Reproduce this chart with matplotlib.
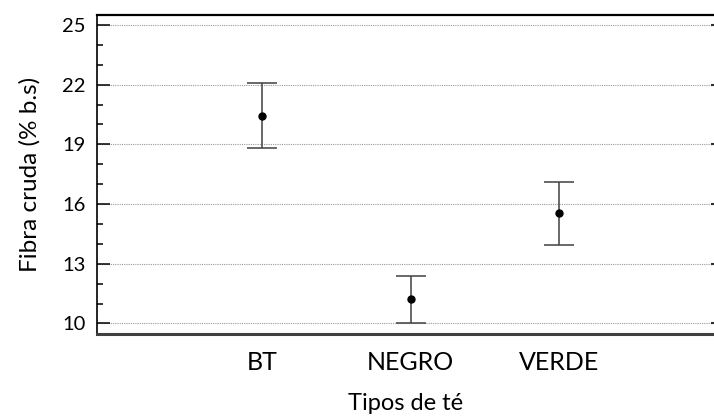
import matplotlib
matplotlib.use("Agg")
import matplotlib.pyplot as plt
from matplotlib.ticker import MultipleLocator

categories = ["BT", "NEGRO", "VERDE"]
means = [20.45, 11.22, 15.57]
lower = [18.83, 10.03, 13.96]
upper = [22.07, 12.37, 17.09]
yticks = [10, 13, 16, 19, 22, 25]

plt.rcParams['font.family'] = ['Lato', 'DejaVu Sans']

fig = plt.figure(figsize=(7.14, 4.17), dpi=100)
ax = fig.add_axes([0.136, 0.199, 0.864, 0.765])

x = [1, 2, 3]
yerr = [[m - l for m, l in zip(means, lower)], [u - m for m, u in zip(means, upper)]]
ax.errorbar(x, means, yerr=yerr, fmt='o', color='black', ms=5,
            ecolor='#404040', elinewidth=1.1, capsize=10.5, capthick=1.1, zorder=3)

ax.set_xlim(-0.11, 4.04)
ax.set_ylim(9.47, 25.5)
ax.set_yticks(yticks)
ax.yaxis.set_minor_locator(MultipleLocator(1))
ax.set_xticks(x)
ax.set_xticklabels(categories)
ax.tick_params(axis='x', length=0, pad=12, labelsize=18)
ax.tick_params(axis='y', which='major', direction='in', length=9, width=1.1,
               labelsize=14.5, pad=8, colors='black')
ax.tick_params(axis='y', which='minor', direction='in', length=4.5, width=1.1)
ax.grid(axis='y', which='major', linestyle=(0, (1, 1)), color='#9a9a9a', linewidth=0.8)

ax.spines['right'].set_visible(False)
ax.spines['top'].set_linewidth(1.6)
ax.spines['left'].set_linewidth(1.2)
ax.spines['bottom'].set_linewidth(2.2)
ax.spines['bottom'].set_color('#404040')

# tiny right-side tick marks at gridlines
tw = ax.twinx()
tw.set_ylim(ax.get_ylim())
tw.set_yticks(yticks)
tw.set_yticklabels([])
tw.tick_params(axis='y', direction='in', length=2, width=1.5, colors='#303030')
for s in tw.spines.values():
    s.set_visible(False)

ax.set_ylabel("Fibra cruda (% b.s)", fontsize=17.5, labelpad=16)
ax.set_xlabel("Tipos de té", fontsize=17, labelpad=14)

fig.savefig("out.png", dpi=100)
